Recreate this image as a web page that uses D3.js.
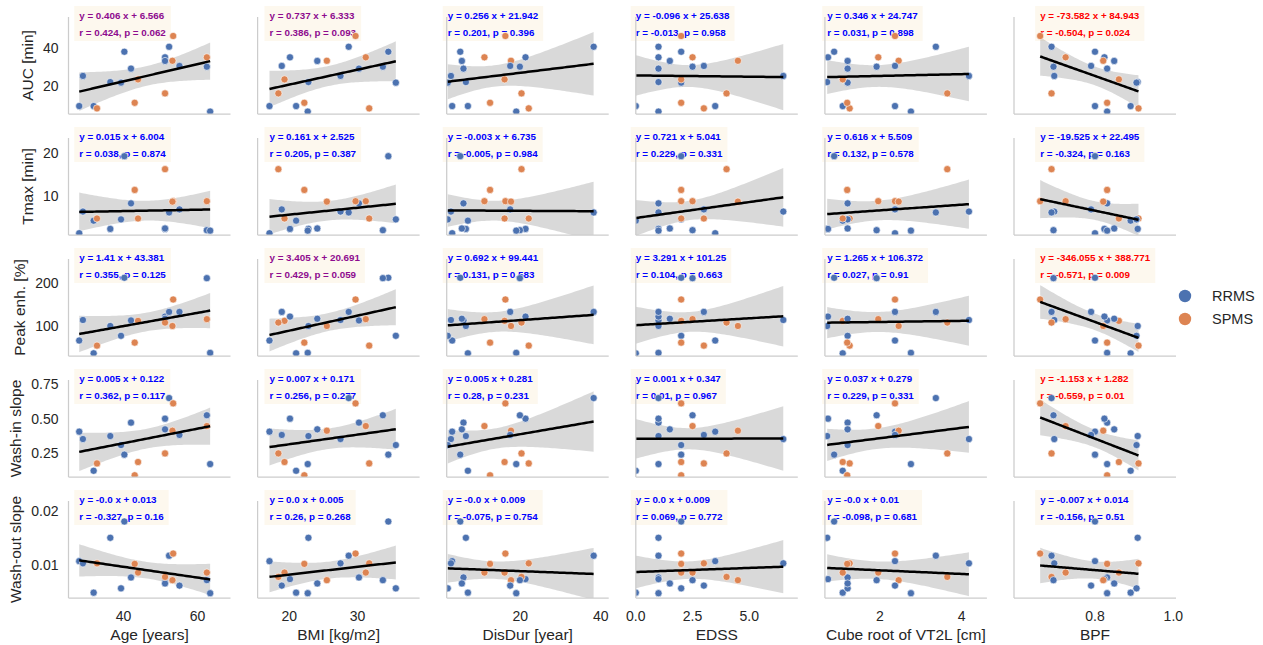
<!DOCTYPE html>
<html>
<head>
<meta charset="utf-8">
<script src="https://cdn.jsdelivr.net/npm/d3@7"></script>
<style>
  html, body { margin: 0; padding: 0; background: #fff; }
  svg { display: block; font-family: "Liberation Sans", Arial, sans-serif; }
  .spine { stroke: #cccccc; stroke-width: 1.25; }
  .tick-label { font-size: 14px; fill: #262626; }
  .axis-label { font-size: 15.5px; fill: #262626; }
  .stat { font-size: 9.8px; font-weight: bold; }
</style>
</head>
<body>
<svg id="chart" width="1263" height="645"></svg>
<script>
// one entry per subject (20 patients)
const group   = ["RRMS","RRMS","RRMS","SPMS","RRMS","RRMS","RRMS","RRMS","SPMS","SPMS","RRMS","RRMS","SPMS","RRMS","SPMS","SPMS","RRMS","RRMS","RRMS","SPMS"];
const age     = [28, 29, 31.9, 32.8, 36.4, 39.3, 40.2, 42, 43, 43.9, 51.2, 51.2, 51.2, 52.3, 53.4, 53.2, 55.1, 62.5, 63.4, 62.5];
const bmi     = [17.1, 27.5, 21.0, 31.7, 22.8, 35.6, 34.5, 30.2, 22.2, 19.3, 20.1, 24.1, 18.4, 28.7, 29.7, 25.5, 18.9, 33.7, 22.7, 31.2];
const disDur  = [3.1, 2.8, 7.0, 22.1, 6.5, 2.0, 5.1, 5.9, 12.5, 16.1, 21.3, 5.5, 20.3, 38.2, 16.3, 17.7, 17.5, 19.9, 19.0, 11.1];
const edss    = [3.5, 6.5, 0.0, 3.0, 1.0, 2.0, 2.0, 1.0, 2.0, 2.0, 1.0, 1.5, 4.0, 1.0, 2.0, 4.5, 3.0, 2.5, 1.0, 2.5];
const vt2l    = [2.37, 4.18, 1.09, 1.26, 0.71, 1.21, 0.88, 1.21, 1.20, 1.09, 0.73, 1.21, 3.65, 3.37, 2.37, 2.46, 2.37, 1.92, 2.76, 1.96];
const bpf     = [0.800, 0.696, 0.891, 0.911, 0.909, 0.906, 0.800, 0.831, 0.831, 0.861, 0.824, 0.849, 0.689, 0.689, 0.660, 0.821, 0.790, 0.694, 0.831, 0.725];
const auc     = [9.5, 25.2, 9.5, 8.3, 22.0, 21.7, 37.8, 29.0, 11.2, 23.4, 34.9, 33.0, 16.1, 40.4, 46.0, 33.1, 30.4, 30.0, 6.6, 34.9];
const tmax    = [1.4, 6.4, 4.3, 4.8, 2.4, 4.6, 19.2, 8.3, 11.4, 4.8, 2.4, 2.5, 16.2, 6.2, 8.8, 8.7, 6.9, 2.1, 2.0, 8.8];
const peak    = [66, 114, 36, 54, 100, 77, 213, 113, 61, 112, 122, 117, 108, 133, 162, 100, 133, 212, 37, 116];
const washIn  = [0.404, 0.350, 0.118, 0.172, 0.372, 0.306, 0.236, 0.470, 0.085, 0.182, 0.499, 0.421, 0.245, 0.650, 0.611, 0.411, 0.380, 0.524, 0.167, 0.445];
const washOut = [0.0107, 0.0103, 0.0049, 0.0103, 0.0150, 0.0057, 0.0180, 0.0077, 0.0102, 0.0086, 0.0074, 0.0066, 0.0078, 0.0117, 0.0121, 0.0072, 0.0062, 0.0072, 0.0048, 0.0086];

const xVars   = [age, bmi, disDur, edss, vt2l, bpf];
const yVars   = [auc, tmax, peak, washIn, washOut];
const xLabels = ["Age [years]", "BMI [kg/m2]", "DisDur [year]", "EDSS", "Cube root of VT2L [cm]", "BPF"];
const yLabels = ["AUC [min]", "Tmax [min]", "Peak enh. [%]", "Wash-in slope", "Wash-out slope"];
const xTicks  = [[40, 60], [20, 30], [20, 40], [0, 2.5, 5], [2, 4], [0.8, 1.0]];
const yTicks  = [[20, 40], [10, 20], [100, 200], [0.25, 0.5, 0.75], [0.01, 0.02]];

// printed fit statistics, row = y variable, column = x variable
const slopeText = [
  ["0.406", "0.737", "0.256", "-0.096", "0.346", "-73.582"],
  ["0.015", "0.161", "-0.003", "0.721", "0.616", "-19.525"],
  ["1.41", "3.405", "0.692", "3.291", "1.265", "-346.055"],
  ["0.005", "0.007", "0.005", "0.001", "0.037", "-1.153"],
  ["-0.0", "0.0", "-0.0", "0.0", "-0.0", "-0.007"]
];
const interceptText = [
  ["6.566", "6.333", "21.942", "25.638", "24.747", "84.943"],
  ["6.004", "2.525", "6.735", "5.041", "5.509", "22.495"],
  ["43.381", "20.691", "99.441", "101.25", "106.372", "388.771"],
  ["0.122", "0.171", "0.281", "0.347", "0.279", "1.282"],
  ["0.013", "0.005", "0.009", "0.009", "0.01", "0.014"]
];
const rValues = [
  [0.424, 0.386, 0.201, -0.013, 0.031, -0.504],
  [0.038, 0.205, -0.005, 0.229, 0.132, -0.324],
  [0.355, 0.429, 0.131, 0.104, 0.027, -0.571],
  [0.362, 0.256, 0.28, 0.01, 0.229, -0.559],
  [-0.327, 0.26, -0.075, 0.069, -0.098, -0.156]
];
const pValues = [
  [0.062, 0.093, 0.396, 0.958, 0.898, 0.024],
  [0.874, 0.387, 0.984, 0.331, 0.578, 0.163],
  [0.125, 0.059, 0.583, 0.663, 0.91, 0.009],
  [0.117, 0.277, 0.231, 0.967, 0.331, 0.01],
  [0.16, 0.268, 0.754, 0.772, 0.681, 0.51]
];

// axis limits, layout
const xLimits = [[25.1, 68.9], [15.36, 39.08], [1.74, 41.94], [0, 7.14], [0.654, 4.62], [0.5932, 1.0068]];
const yLimits = [[5.36, 55.9], [0.99, 23.4], [29.7, 256.9], [0.0724, 0.782], [0.00392, 0.02177]];
const left0 = 68.5, colStep = 189.1, panelW = 162;
const top0 = 17, rowStep = 121, panelH = 97;
const colors = { RRMS: "#4C72B0", SPMS: "#DD8452" };

const svg = d3.select("#chart");
const defs = svg.append("defs");

function statColor(p) {
  if (p < 0.05) return "#ff0000";
  if (p < 0.1) return "#8e0b8e";
  return "#0000ff";
}

function fitLine(xs, ys) {
  const n = xs.length;
  const mx = d3.mean(xs), my = d3.mean(ys);
  let sxx = 0, sxy = 0;
  xs.forEach((x, i) => { sxx += (x - mx) ** 2; sxy += (x - mx) * (ys[i] - my); });
  const b = sxy / sxx, a = my - b * mx;
  let sse = 0;
  xs.forEach((x, i) => { sse += (ys[i] - a - b * x) ** 2; });
  const s = Math.sqrt(sse / (n - 2));
  const t = 2.101; // 95%, 18 dof
  const grid = d3.range(0, 61).map(k => d3.min(xs) + (d3.max(xs) - d3.min(xs)) * k / 60);
  return grid.map(x => {
    const yh = a + b * x;
    const h = t * s * Math.sqrt(1 / n + (x - mx) ** 2 / sxx);
    return { x, lo: yh - h, hi: yh + h, y: yh };
  });
}

yVars.forEach((ys, r) => {
  xVars.forEach((xs, c) => {
    const x0 = left0 + c * colStep, y0 = top0 + r * rowStep;
    const x = d3.scaleLinear().domain(xLimits[c]).range([x0, x0 + panelW]);
    const y = d3.scaleLinear().domain(yLimits[r]).range([y0 + panelH, y0]);
    const clipId = `clip-${r}-${c}`;
    defs.append("clipPath").attr("id", clipId)
      .append("rect").attr("x", x0).attr("y", y0).attr("width", panelW).attr("height", panelH);

    const g = svg.append("g");

    // statistics annotation with pale box
    const tx = x(d3.min(xs));
    const col = statColor(pValues[r][c]);
    const box = g.append("rect").attr("fill", "wheat").attr("fill-opacity", 0.22);
    const l1 = g.append("text").attr("class", "stat").attr("fill", col)
      .attr("x", tx).attr("y", y0 + 1.5)
      .text(`y = ${slopeText[r][c]} x + ${interceptText[r][c]}`);
    const l2 = g.append("text").attr("class", "stat").attr("fill", col)
      .attr("x", tx).attr("y", y0 + 19)
      .text(`r = ${rValues[r][c]}, p = ${pValues[r][c]}`);
    const w = Math.max(l1.node().getComputedTextLength(), l2.node().getComputedTextLength());
    box.attr("x", tx - 5).attr("y", y0 - 11).attr("width", w + 10).attr("height", 35);

    const band = fitLine(xs, ys);
    const plot = g.append("g").attr("clip-path", `url(#${clipId})`);

    plot.append("path")
      .attr("d", d3.area().x(d => x(d.x)).y0(d => y(d.lo)).y1(d => y(d.hi))(band))
      .attr("fill", "#000").attr("fill-opacity", 0.15);

    plot.selectAll("circle").data(xs.map((v, i) => i)).join("circle")
      .attr("cx", i => x(xs[i]))
      .attr("cy", i => y(ys[i]))
      .attr("r", 3.6)
      .attr("fill", i => colors[group[i]])
      .attr("stroke", "#fff").attr("stroke-width", 0.6);

    plot.append("path")
      .attr("d", d3.line().x(d => x(d.x)).y(d => y(d.y))(band))
      .attr("fill", "none").attr("stroke", "#000").attr("stroke-width", 2.5);

    // spines
    g.append("line").attr("class", "spine")
      .attr("x1", x0).attr("x2", x0).attr("y1", y0).attr("y2", y0 + panelH);
    g.append("line").attr("class", "spine")
      .attr("x1", x0).attr("x2", x0 + panelW).attr("y1", y0 + panelH).attr("y2", y0 + panelH);

    if (c === 0) {
      const fmt = r >= 3 ? d3.format(".2f") : d3.format("d");
      let minLeft = x0;
      yTicks[r].forEach(v => {
        const t = g.append("text").attr("class", "tick-label")
          .attr("x", x0 - 10).attr("y", y(v))
          .attr("text-anchor", "end").attr("dominant-baseline", "central")
          .text(fmt(v));
        minLeft = Math.min(minLeft, t.node().getBBox().x);
      });
      // label sits just outside the widest tick label
      g.append("text").attr("class", "axis-label")
        .attr("transform", `translate(${minLeft - 10},${y0 + panelH / 2}) rotate(-90)`)
        .attr("text-anchor", "middle")
        .text(yLabels[r]);
    }
    if (r === yVars.length - 1) {
      const fmt = (c === 3 || c === 5) ? d3.format(".1f") : d3.format("d");
      xTicks[c].forEach(v => {
        g.append("text").attr("class", "tick-label")
          .attr("x", x(v)).attr("y", y0 + panelH + 23)
          .attr("text-anchor", "middle")
          .text(fmt(v));
      });
      g.append("text").attr("class", "axis-label")
        .attr("x", x0 + panelW / 2).attr("y", 640)
        .attr("text-anchor", "middle")
        .text(xLabels[c]);
    }
  });
});

// legend
const legend = svg.append("g");
["RRMS", "SPMS"].forEach((k, i) => {
  legend.append("circle").attr("cx", 1185).attr("cy", 296 + i * 23).attr("r", 6.2).attr("fill", colors[k]);
  legend.append("text").attr("x", 1212).attr("y", 296 + i * 23)
    .attr("dominant-baseline", "central").attr("font-size", 14.5).attr("fill", "#262626")
    .text(k);
});
</script>
</body>
</html>
